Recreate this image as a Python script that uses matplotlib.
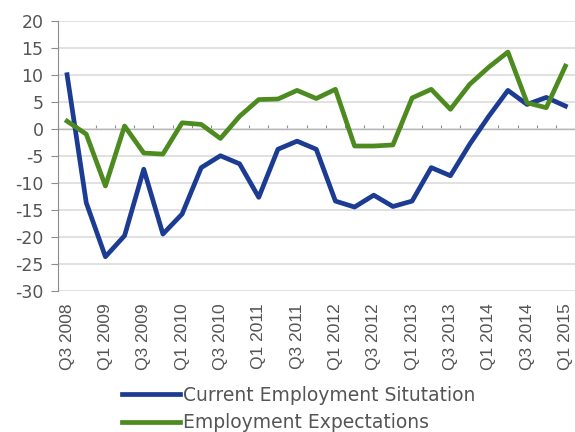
import numpy as np
import matplotlib.pyplot as plt

plt.rcParams['font.family'] = ['DejaVu Sans']
plt.rcParams['axes.unicode_minus'] = False

quarters = ['Q3 2008', 'Q4 2008',
            'Q1 2009', 'Q2 2009', 'Q3 2009', 'Q4 2009',
            'Q1 2010', 'Q2 2010', 'Q3 2010', 'Q4 2010',
            'Q1 2011', 'Q2 2011', 'Q3 2011', 'Q4 2011',
            'Q1 2012', 'Q2 2012', 'Q3 2012', 'Q4 2012',
            'Q1 2013', 'Q2 2013', 'Q3 2013', 'Q4 2013',
            'Q1 2014', 'Q2 2014', 'Q3 2014', 'Q4 2014',
            'Q1 2015']

current = [10.0, -13.7, -23.7, -19.8, -7.5, -19.5, -15.8, -7.2, -5.0, -6.5,
           -12.7, -3.8, -2.3, -3.8, -13.4, -14.5, -12.3, -14.4, -13.4, -7.2,
           -8.7, -2.9, 2.3, 7.1, 4.5, 5.8, 4.2]
expect = [1.4, -1.0, -10.6, 0.5, -4.5, -4.7, 1.1, 0.8, -1.8, 2.3,
          5.4, 5.5, 7.1, 5.6, 7.3, -3.2, -3.2, -3.0, 5.7, 7.3,
          3.6, 8.2, 11.4, 14.2, 4.8, 3.9, 11.6]

blue = '#1c3b93'
green = '#4d8a20'
grey_txt = '#555555'

fig = plt.figure(figsize=(5.75, 4.32), dpi=100)
ax = fig.add_axes([0.1, 0.327, 0.9, 0.625])

x = np.arange(len(quarters))
ax.plot(x, current, color=blue, lw=3.4, solid_joinstyle='round',
        label='Current Employment Situtation', zorder=3)
ax.plot(x, expect, color=green, lw=3.4, solid_joinstyle='round',
        label='Employment Expectations', zorder=3)

ax.set_xlim(-0.5, len(quarters) - 0.5)
ax.set_ylim(-30, 20)
ax.set_yticks(np.arange(-30, 21, 5))
ax.yaxis.grid(True, color='#dcdcdc', lw=1.2)
ax.set_axisbelow(True)

for s in ['top', 'right', 'bottom']:
    ax.spines[s].set_visible(False)
ax.spines['left'].set_color('#8c8c8c')
ax.tick_params(axis='y', length=5, color='#8c8c8c', labelsize=12.5,
               labelcolor=grey_txt, pad=5)

# category labels at the bottom, every second quarter
ax.set_xticks(x[::2])
ax.set_xticklabels(quarters[::2], rotation=90, fontsize=12.5,
                   family='Liberation Sans', color=grey_txt)
ax.tick_params(axis='x', length=0, pad=9)

# horizontal axis line crossing at zero with ticks between categories
zero = ax.secondary_xaxis(0.6)
zero.set_xticks(np.arange(-0.5, len(quarters), 1.0))
zero.set_xticklabels([])
zero.tick_params(length=3, color='#8c8c8c', direction='out')
zero.spines['bottom'].set_color('#8c8c8c')
zero.spines['bottom'].set_linewidth(1.2)

fig.legend(loc='upper left', bbox_to_anchor=(0.212, 0.107), frameon=False,
           fontsize=13.5, handlelength=3.1, handletextpad=0.15,
           labelspacing=0.45, borderpad=0, borderaxespad=0,
           labelcolor=grey_txt)

fig.savefig('out.png', dpi=100)
